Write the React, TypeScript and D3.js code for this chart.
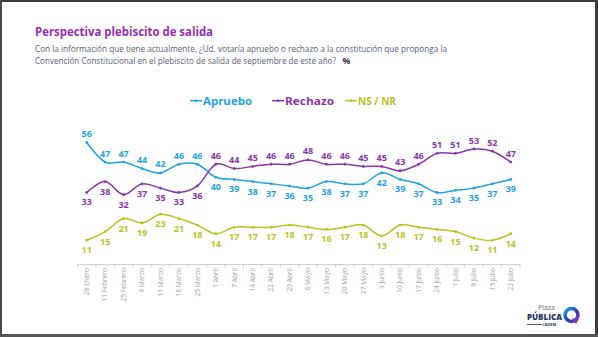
import React from "react";
import * as d3 from "d3";

const categories = [
  "28 Enero", "11 Febrero", "25 Febrero", "4 Marzo", "11 Marzo", "18 Marzo", "25 Marzo",
  "1 Abril", "7 Abril", "14 Abril", "22 Abril", "29 Abril", "6 Mayo", "13 Mayo", "20 Mayo",
  "27 Mayo", "3 Junio", "10 Junio", "17 Junio", "24 Junio", "1 Julio", "8 Julio", "15 Julio", "22 Julio",
];
const apruebo = [56, 47, 47, 44, 42, 46, 46, 40, 39, 38, 37, 36, 35, 38, 37, 37, 42, 39, 37, 33, 34, 35, 37, 39];
const rechazo = [33, 38, 32, 37, 35, 33, 36, 46, 44, 45, 46, 46, 48, 46, 46, 45, 45, 43, 46, 51, 51, 53, 52, 47];
const nsnr = [11, 15, 21, 19, 23, 21, 18, 14, 17, 17, 17, 18, 17, 16, 17, 18, 13, 18, 17, 16, 15, 12, 11, 14];
const seriesNames = ["Apruebo", "Rechazo", "NS / NR"];

const W = 598;
const H = 337;
const COLORS = ["#1fa3e3", "#8a36aa", "#b9c31d"];
const FONT = "'Open Sans', 'DejaVu Sans', sans-serif";

export default function App() {
  const x = d3.scaleBand<string>().domain(categories).range([77.5, 520]).padding(0);
  const y = d3.scaleLinear().domain([0, 60]).range([264.2, 133.8]);
  const bw = x.bandwidth();
  const cx = (c: string) => (x(c) as number) + bw / 2;

  const line = d3
    .line<number>()
    .x((_, i) => cx(categories[i]))
    .y((d) => y(d))
    .curve(d3.curveCardinal.tension(0));

  const series = [apruebo, rechazo, nsnr];
  // label placement: true = above
  const above = (s: number, i: number) => {
    if (s === 0) return i < 7;
    if (s === 1) return i >= 7;
    return false;
  };

  const axisY = 264.5;
  const legendItems = [
    { x: 190, w: 62 },
    { x: 272, w: 62 },
    { x: 345, w: 55 },
  ];

  return (
    <svg
      width={W}
      height={H}
      viewBox={`0 0 ${W} ${H}`}
      style={{ position: "fixed", left: 0, top: 0, background: "#fff" }}
    >
      <rect x={0} y={0} width={W} height={H} fill="#fff" />
      {/* frame */}
      <rect x={0} y={0} width={W} height={2} fill="#3c3c3c" />
      <rect x={0} y={0} width={2} height={H} fill="#4a4a4a" />
      <rect x={595} y={0} width={3} height={H} fill="#3c3c3c" />
      <rect x={0} y={334} width={W} height={3} fill="#555" />

      {/* title */}
      <text x={35} y={36} fontFamily={FONT} fontWeight={700} fontSize={13} fill="#9231b3" textLength={178} lengthAdjust="spacingAndGlyphs">
        Perspectiva plebiscito de salida
      </text>
      <text x={35} y={52} fontFamily={FONT} fontSize={8.3} fill="#57617a" textLength={412} lengthAdjust="spacingAndGlyphs">
        Con la información que tiene actualmente, ¿Ud. votaría apruebo o rechazo a la constitución que proponga la
      </text>
      <text x={35} y={63.5} fontFamily={FONT} fontSize={8.1} fill="#57617a" textLength={301} lengthAdjust="spacingAndGlyphs">
        Convención Constitucional en el plebiscito de salida de septiembre de este año?
      </text>
      <text x={342.5} y={63.5} fontFamily={FONT} fontSize={8.6} fontWeight={700} fill="#2d3550">%</text>

      {/* legend */}
      {seriesNames.map((n, s) => (
        <g key={n}>
          <line x1={legendItems[s].x} x2={legendItems[s].x + 12} y1={100.7} y2={100.7} stroke={COLORS[s]} strokeWidth={1.5} />
          <circle cx={legendItems[s].x + 6} cy={100.7} r={1.3} fill={COLORS[s]} />
          <text x={legendItems[s].x + 13} y={104.6} fontFamily={FONT} fontWeight={700} fontSize={11} fill={COLORS[s]} textLength={s === 2 ? 38 : 49} lengthAdjust="spacingAndGlyphs">
            {n}
          </text>
        </g>
      ))}

      {/* axis */}
      <line x1={77.5} x2={520} y1={axisY} y2={axisY} stroke="#cfcfcf" strokeWidth={1} />
      {categories.map((c) => (
        <line key={"t" + c} x1={x(c) as number} x2={x(c) as number} y1={axisY} y2={axisY + 3} stroke="#cfcfcf" strokeWidth={1} />
      ))}
      <line x1={520} x2={520} y1={axisY} y2={axisY + 3} stroke="#cfcfcf" strokeWidth={1} />
      {categories.map((c) => (
        <text
          key={"l" + c}
          transform={`translate(${cx(c) + 2.3},${268}) rotate(-90)`}
          textAnchor="end"
          fontFamily={FONT}
          fontSize={6.6}
          fill="#a3a3a3"
        >
          {c}
        </text>
      ))}

      {/* series */}
      {series.map((vals, s) => (
        <g key={"s" + s}>
          <path d={line(vals) as string} fill="none" stroke={COLORS[s]} strokeWidth={1.5} />
          {vals.map((v, i) => (
            <circle key={i} cx={cx(categories[i])} cy={y(v)} r={1.4} fill={COLORS[s]} />
          ))}
          {vals.map((v, i) => (
            <text
              key={"v" + i}
              x={cx(categories[i])}
              y={above(s, i) ? y(v) - 5.5 : y(v) + 13}
              textAnchor="middle"
              fontFamily={FONT}
              fontWeight={700}
              fontSize={9}
              fill={COLORS[s]}
            >
              {v}
            </text>
          ))}
        </g>
      ))}

      {/* logo */}
      <g>
        <text x={555} y={310} textAnchor="end" fontFamily={FONT} fontSize={7} fill="#6a7390">Plaza</text>
        <text x={562} y={320} textAnchor="end" fontFamily={FONT} fontWeight={800} fontSize={8} fill="#2b3467" textLength={35} lengthAdjust="spacingAndGlyphs">PÚBLICA</text>
        <text x={556} y={325.5} textAnchor="end" fontFamily={FONT} fontWeight={700} fontSize={3.8} fill="#2b3467">CADEM</text>
        <line x1={527} x2={542} y1={324.5} y2={324.5} stroke="#2b3467" strokeWidth={0.8} />
        <defs>
          <linearGradient id="lg" x1="0" y1="0" x2="1" y2="1">
            <stop offset="0%" stopColor="#1fa3e3" />
            <stop offset="55%" stopColor="#2b3bb0" />
            <stop offset="100%" stopColor="#9231b3" />
          </linearGradient>
        </defs>
        <circle cx={571.5} cy={315} r={6.5} fill="none" stroke="url(#lg)" strokeWidth={3.6} />
        <path d="M571.5 318 L576 324 L578.5 320 Z" fill="#9231b3" />
      </g>
    </svg>
  );
}
